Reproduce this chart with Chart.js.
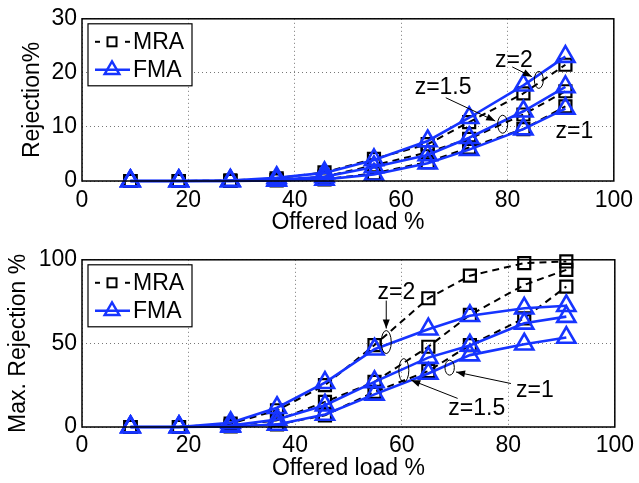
<!DOCTYPE html>
<html><head><meta charset="utf-8">
<script src="https://cdn.jsdelivr.net/npm/chart.js@4/dist/chart.umd.min.js"></script>
<style>
html,body{margin:0;padding:0;background:#fff;}
#w{width:639px;height:483px;position:relative;overflow:hidden;background:#fff}
.c{position:absolute;left:0;width:639px}
</style>
</head><body>
<div id="w">
<div class="c" style="top:0;height:241px"><canvas id="c1"></canvas></div>
<div class="c" style="top:241px;height:242px"><canvas id="c2"></canvas></div>
</div>
<script>
// ---------- data ----------
const loads = [9.1, 18.2, 27.9, 36.6, 45.6, 54.9, 65.0, 72.8, 83.0, 90.9];
const xTicks = [0, 20, 40, 60, 80, 100];
const rejYTicks = [0, 10, 20, 30];
const maxYTicks = [0, 50, 100];
const seriesNames = ['MRA', 'FMA'];
const xTitle = 'Offered load %';
const rejTitle = 'Rejection%';
const maxTitle = 'Max. Rejection %';

// Rejection % (top panel)
const rejMRA_z1  = [0, 0, 0,   0.1, 0.3, 1.4, 3.5, 6.2, 9.6, 13.8];
const rejMRA_z15 = [0, 0, 0,   0.2, 0.8, 2.9, 5.3, 7.8, 12.3, 16.6];
const rejMRA_z2  = [0, 0, 0.1, 0.5, 1.6, 4.1, 6.8, 10.9, 16.2, 21.5];
const rejFMA_z1  = [0, 0, 0,   0.1, 0.3, 1.2, 3.3, 5.8, 9.6, 13.4];
const rejFMA_z15 = [0, 0, 0,   0.2, 0.8, 2.6, 4.8, 8.0, 12.9, 17.4];
const rejFMA_z2  = [0, 0, 0.1, 0.6, 1.5, 3.9, 7.4, 11.7, 17.7, 23.0];

// Max. Rejection % (bottom panel)
const maxMRA_z1  = [0, 0, 0.3, 1.5, 7,    21,   33.5, 49,   65,   84];
const maxMRA_z15 = [0, 0, 0.8, 4,   15,   27,   48,   67,   85,   94];
const maxMRA_z2  = [0, 0, 2,   10,  25,   49,   77,   90.5, 98,   99];
const maxFMA_z1  = [0, 0, 0.3, 1.5, 7.5,  19.5, 32,   43,   49.5, 53.5];
const maxFMA_z15 = [0, 0, 0.8, 4.5, 13,   27,   41.5, 48.8, 62,   66];
const maxFMA_z2  = [0, 0, 2.5, 11.5,26.5, 46.5, 58.5, 66.5, 71,   72.5];

// annotations (data coordinates)
const rejNotes = [{t:'z=2', x:81.2, y:22.3}, {t:'z=1.5', x:67.9, y:17.2}, {t:'z=1', x:92.6, y:9.2}];
const rejEllipses = [{x:85.9, y:18.7, rx:4.5, ry:8.5}, {x:79.1, y:10.5, rx:5, ry:9}];
const rejArrows = [{x1:80.9, y1:21.1, x2:84.6, y2:19.3}, {x1:68.4, y1:15.4, x2:77.7, y2:11.1}];

const maxNotes = [{t:'z=2', x:59.0, y:80.1}, {t:'z=1.5', x:74.1, y:10.7}, {t:'z=1', x:85.0, y:22.0}];
const maxEllipses = [{x:57.1, y:50.8, rx:5, ry:11.5}, {x:60.4, y:33.9, rx:5, ry:11.7}, {x:69.0, y:35.5, rx:4.7, ry:7.5}];
const maxArrows = [{x1:57.1, y1:75.6, x2:57.1, y2:58.9}, {x1:70.5, y1:17.1, x2:61.8, y2:28.0}, {x1:80.5, y1:26.0, x2:70.2, y2:32.9}];

// ---------- styling ----------
const FONT = '"Liberation Sans", Arial, Helvetica, sans-serif';
const FS = 23;
const BLUE = 'rgb(22,52,255)';

function ds(label, vals, kind) {
  const m = kind === 'MRA';
  const col = m ? '#000' : BLUE;
  return {
    label: label,
    data: loads.map((x, i) => ({x: x, y: vals[i]})),
    borderColor: col, backgroundColor: 'rgba(0,0,0,0)',
    borderWidth: m ? 2 : 2.6,
    borderDash: m ? [7, 5] : [],
    pointStyle: m ? 'rect' : 'triangle',
    pointRadius: m ? 8.5 : 10.5,
    pointBorderWidth: m ? 2.2 : 2.6,
    pointBorderColor: col,
    pointBackgroundColor: 'rgba(0,0,0,0)',
    pointHoverRadius: m ? 8.5 : 10.5,
    tension: 0, fill: false, clip: false
  };
}

function drawArrow(ctx, x1, y1, x2, y2) {
  ctx.beginPath(); ctx.moveTo(x1, y1); ctx.lineTo(x2, y2); ctx.stroke();
  const a = Math.atan2(y2 - y1, x2 - x1), L = 9, W = 3.5;
  ctx.beginPath();
  ctx.moveTo(x2, y2);
  ctx.lineTo(x2 - L * Math.cos(a) + W * Math.sin(a), y2 - L * Math.sin(a) - W * Math.cos(a));
  ctx.lineTo(x2 - L * Math.cos(a) - W * Math.sin(a), y2 - L * Math.sin(a) + W * Math.cos(a));
  ctx.closePath(); ctx.fill();
}

function decoPlugin(notes, ellipses, arrows) {
  return {
    id: 'deco',
    afterDatasetsDraw(chart) {
      const ctx = chart.ctx, a = chart.chartArea;
      const xs = chart.scales.x, ys = chart.scales.y;
      ctx.save();
      ctx.setLineDash([]);
      // annotations
      ctx.strokeStyle = '#000'; ctx.fillStyle = '#000'; ctx.lineWidth = 1;
      ellipses.forEach(e => {
        ctx.beginPath();
        ctx.ellipse(xs.getPixelForValue(e.x), ys.getPixelForValue(e.y), e.rx, e.ry, 0, 0, Math.PI * 2);
        ctx.stroke();
      });
      arrows.forEach(r => drawArrow(ctx, xs.getPixelForValue(r.x1), ys.getPixelForValue(r.y1),
                                         xs.getPixelForValue(r.x2), ys.getPixelForValue(r.y2)));
      ctx.font = FS + 'px ' + FONT;
      ctx.textAlign = 'center'; ctx.textBaseline = 'middle';
      notes.forEach(n => ctx.fillText(n.t, xs.getPixelForValue(n.x), ys.getPixelForValue(n.y)));
      // axes box
      ctx.lineWidth = 1.5; ctx.strokeStyle = '#000';
      ctx.strokeRect(a.left, a.top, a.right - a.left, a.bottom - a.top);
      // legend
      const lx = a.left + 6, ly = a.top + 5, lw = 104, lh = 62;
      ctx.fillStyle = '#fff'; ctx.fillRect(lx, ly, lw, lh);
      ctx.lineWidth = 1.2; ctx.strokeRect(lx, ly, lw, lh);
      const rows = [ly + 18, ly + 46];
      const sx1 = lx + 7, sx2 = lx + 42, mx = lx + 24;
      // MRA
      ctx.strokeStyle = '#000'; ctx.lineWidth = 2;
      ctx.beginPath(); ctx.moveTo(sx1, rows[0]); ctx.lineTo(sx1 + 5, rows[0]); ctx.stroke();
      ctx.beginPath(); ctx.moveTo(sx2 - 5, rows[0]); ctx.lineTo(sx2, rows[0]); ctx.stroke();
      ctx.lineWidth = 2; ctx.strokeRect(mx - 4.5, rows[0] - 4.5, 9, 9);
      // FMA
      ctx.strokeStyle = BLUE; ctx.lineWidth = 2.4;
      ctx.beginPath(); ctx.moveTo(sx1, rows[1]); ctx.lineTo(sx2, rows[1]); ctx.stroke();
      ctx.beginPath();
      const r = 8.5;
      ctx.moveTo(mx, rows[1] - r);
      ctx.lineTo(mx + r * Math.sin(2 * Math.PI / 3), rows[1] - r * Math.cos(2 * Math.PI / 3));
      ctx.lineTo(mx - r * Math.sin(2 * Math.PI / 3), rows[1] - r * Math.cos(2 * Math.PI / 3));
      ctx.closePath(); ctx.stroke();
      ctx.fillStyle = '#000'; ctx.textAlign = 'left'; ctx.textBaseline = 'middle';
      ctx.fillText(seriesNames[0], lx + 45, rows[0] + 1);
      ctx.fillText(seriesNames[1], lx + 45, rows[1] + 1);
      ctx.restore();
    }
  };
}

function makeChart(id, datasets, yMax, yTicks, yTitle, cfg) {
  return new Chart(document.getElementById(id), {
    type: 'line',
    data: {datasets: datasets},
    options: {
      responsive: true, maintainAspectRatio: false, animation: false, devicePixelRatio: 1,
      layout: {padding: {left: 0, right: 21, top: cfg.top, bottom: 0}},
      plugins: {legend: {display: false}, tooltip: {enabled: false}},
      scales: {
        x: {
          type: 'linear', min: 0, max: 100,
          afterBuildTicks: s => { s.ticks = xTicks.map(v => ({value: v})); },
          ticks: {color: '#000', font: {family: FONT, size: FS}, padding: cfg.xPad, maxRotation: 0, autoSkip: false},
          grid: {color: '#777', lineWidth: 1, drawTicks: false, tickLength: 0},
          border: {display: false, dash: [1, 3]},
          title: {display: true, text: xTitle, color: '#000', font: {family: FONT, size: FS}, padding: {top: 0, bottom: cfg.xTitlePad}},
          afterFit: s => { s.height = cfg.xH; }
        },
        y: {
          type: 'linear', min: 0, max: yMax,
          afterBuildTicks: s => { s.ticks = yTicks.map(v => ({value: v})); },
          ticks: {color: '#000', font: {family: FONT, size: FS}, padding: 5, autoSkip: false},
          grid: {color: '#777', lineWidth: 1, drawTicks: false, tickLength: 0},
          border: {display: false, dash: [1, 3]},
          title: {display: true, text: yTitle, color: '#000', font: {family: FONT, size: FS}, padding: {top: cfg.yTitlePad, bottom: 0}},
          afterFit: s => { s.width = 82; }
        }
      }
    },
    plugins: [decoPlugin(cfg.notes, cfg.ellipses, cfg.arrows)]
  });
}

makeChart('c1', [
  ds('FMA z=2', rejFMA_z2, 'FMA'), ds('FMA z=1.5', rejFMA_z15, 'FMA'), ds('FMA z=1', rejFMA_z1, 'FMA'),
  ds('MRA z=2', rejMRA_z2, 'MRA'), ds('MRA z=1.5', rejMRA_z15, 'MRA'), ds('MRA z=1', rejMRA_z1, 'MRA')
], 30, rejYTicks, rejTitle,
  {top: 14, xH: 60, xPad: 6, xTitlePad: 5, yTitlePad: 19, notes: rejNotes, ellipses: rejEllipses, arrows: rejArrows});

makeChart('c2', [
  ds('FMA z=2', maxFMA_z2, 'FMA'), ds('FMA z=1.5', maxFMA_z15, 'FMA'), ds('FMA z=1', maxFMA_z1, 'FMA'),
  ds('MRA z=2', maxMRA_z2, 'MRA'), ds('MRA z=1.5', maxMRA_z15, 'MRA'), ds('MRA z=1', maxMRA_z1, 'MRA')
], 100, maxYTicks, maxTitle,
  {top: 18, xH: 56, xPad: 5, xTitlePad: 1, yTitlePad: 5, notes: maxNotes, ellipses: maxEllipses, arrows: maxArrows});
</script>
</body></html>
